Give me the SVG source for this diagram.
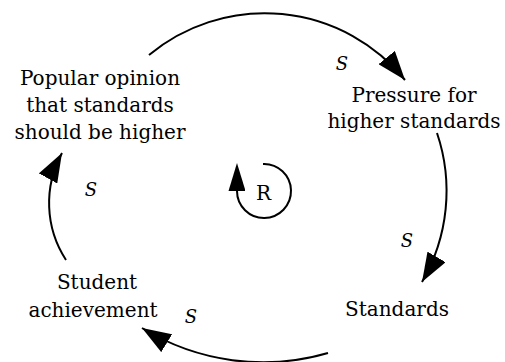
<svg xmlns="http://www.w3.org/2000/svg" width="505" height="362" viewBox="0 0 505 362">
<style>
.lbl{font-family:"DejaVu Serif","Liberation Serif",serif;font-size:20px;fill:#000;text-anchor:middle}
.pol{font-family:"DejaVu Serif","Liberation Serif",serif;font-size:18px;font-style:italic;fill:#000;text-anchor:middle}
.edge{fill:none;stroke:#000;stroke-width:2}
</style>
<defs>
<marker id="ah" markerUnits="userSpaceOnUse" markerWidth="29" markerHeight="21" viewBox="0 0 29 21" refX="29" refY="10.5" orient="auto">
<path d="M0,0 L29,10.5 L0,21 z" fill="#000"/>
</marker>
<marker id="ahs" markerUnits="userSpaceOnUse" markerWidth="28" markerHeight="17" viewBox="0 0 28 17" refX="0" refY="8.5" orient="auto">
<path d="M0,0 L28,8.5 L0,17 z" fill="#000"/>
</marker>
</defs>
<rect width="505" height="362" fill="#fff"/>
<g id="connectors">
<path class="edge" d="M149,55 A181,181 0 0 1 405,80" marker-end="url(#ah)"/>
<path class="edge" d="M437,133 A181,181 0 0 1 422,282" marker-end="url(#ah)"/>
<path class="edge" d="M328,353 A232,232 0 0 1 142,328" marker-end="url(#ah)"/>
<path class="edge" d="M66,260 A104,104 0 0 1 62,153" marker-end="url(#ah)"/>
<text class="pol" x="342" y="70">S</text>
<text class="pol" x="407" y="247">S</text>
<text class="pol" x="191" y="323">S</text>
<text class="pol" x="91" y="196">S</text>
</g>
<g id="loop">
<path class="edge" d="M263,164 A27,27 0 1 1 237,191" marker-end="url(#ahs)"/>
<text class="lbl" x="263.5" y="200">R</text>
</g>
<g id="popular-opinion">
<text class="lbl" x="100" y="85">Popular opinion</text>
<text class="lbl" x="100" y="112">that standards</text>
<text class="lbl" x="100" y="138.5">should be higher</text>
</g>
<g id="pressure">
<text class="lbl" x="414" y="102">Pressure for</text>
<text class="lbl" x="414" y="128">higher standards</text>
</g>
<g id="standards">
<text class="lbl" x="397" y="316">Standards</text>
</g>
<g id="student-achievement">
<text class="lbl" x="97" y="289">Student</text>
<text class="lbl" x="93" y="317">achievement</text>
</g>
</svg>
